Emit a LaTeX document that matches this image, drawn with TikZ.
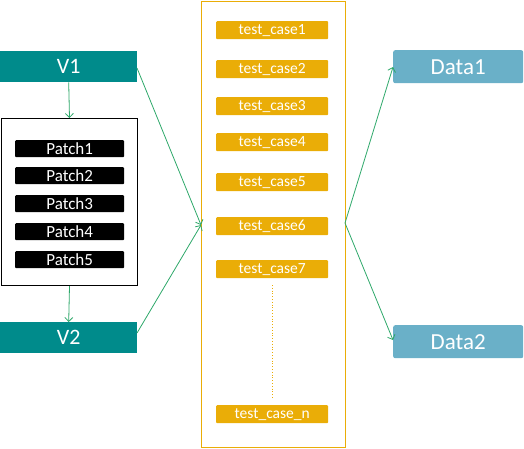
\documentclass[tikz,border=0pt]{standalone}
\usepackage{fontspec}
\setmainfont{Carlito}
\usetikzlibrary{arrows.meta}
\definecolor{teal1}{RGB}{0,139,139}
\definecolor{dataB}{RGB}{106,176,200}
\definecolor{orng}{RGB}{234,173,7}
\definecolor{grn}{RGB}{46,168,106}
\tikzset{
  vbox/.style={fill=teal1, draw=none, minimum width=137pt, minimum height=31pt, inner sep=0pt, text=white, font=\fontsize{22}{22}\selectfont, anchor=north west},
  patchbar/.style={fill=black, rounded corners=1pt, minimum width=109pt, minimum height=17pt, inner sep=0pt, text=white, font=\fontsize{17}{17}\selectfont, anchor=north west},
  tcbar/.style={fill=orng, rounded corners=1pt, minimum width=112pt, minimum height=18pt, inner sep=0pt, text=white, font=\fontsize{15.5}{15.5}\selectfont, anchor=north west},
  databox/.style={fill=dataB, rounded corners=2pt, minimum width=130pt, minimum height=33pt, inner sep=0pt, text=white, font=\fontsize{23}{23}\selectfont, anchor=north west},
  conn/.style={draw=grn, line width=0.8pt, -{Straight Barb[length=4pt,width=8pt]}},
}
\begin{document}
\begin{tikzpicture}[x=1pt,y=-1pt]
\useasboundingbox (0,0) rectangle (524,448);
% left column
\node[vbox] (v1) at (0,51) {V1};
\node[draw=black, line width=1pt, minimum width=136pt, minimum height=167pt, inner sep=0pt, anchor=north west] (pbox) at (1,118) {};
\node[patchbar] (p1) at (15,140) {Patch1};
\node[patchbar] (p2) at (15,167) {Patch2};
\node[patchbar] (p3) at (15,195) {Patch3};
\node[patchbar] (p4) at (15,223) {Patch4};
\node[patchbar] (p5) at (15,251) {Patch5};
\node[vbox] (v2) at (0,322) {V2};
% middle
\node[draw=orng, line width=1pt, minimum width=144pt, minimum height=446pt, inner sep=0pt, anchor=north west] (mid) at (201,1) {};
\node[tcbar] (t1) at (216,21) {test\_case1};
\node[tcbar] (t2) at (216,60) {test\_case2};
\node[tcbar] (t3) at (216,97) {test\_case3};
\node[tcbar] (t4) at (216,133) {test\_case4};
\node[tcbar] (t5) at (216,173) {test\_case5};
\node[tcbar] (t6) at (216,217) {test\_case6};
\node[tcbar] (t7) at (216,260) {test\_case7};
\node[tcbar] (tn) at (216,405) {test\_case\_n};
\coordinate (dtop) at (272,285);
\coordinate (dbot) at (272,398);
\draw[orng, line width=0.8pt, dotted] (dtop) -- (dbot);
% right
\node[databox] (d1) at (393,50) {Data1};
\node[databox] (d2) at (393,325) {Data2};
% connectors
\coordinate (midL) at (201,225);
\coordinate (midR) at (345,223);
\coordinate (v1R) at (137,68);
\coordinate (v2R) at (137,333);
\coordinate (d1L) at (393,67);
\coordinate (d2L) at (393,340);
\draw[conn] (v1.south) -- (pbox.north);
\draw[conn] (pbox.south) -- (v2.north);
\draw[conn] (v1R) -- (midL);
\draw[conn] (v2R) -- (midL);
\draw[conn] (midR) -- (d1L);
\draw[conn] (midR) -- (d2L);
\end{tikzpicture}
\end{document}
